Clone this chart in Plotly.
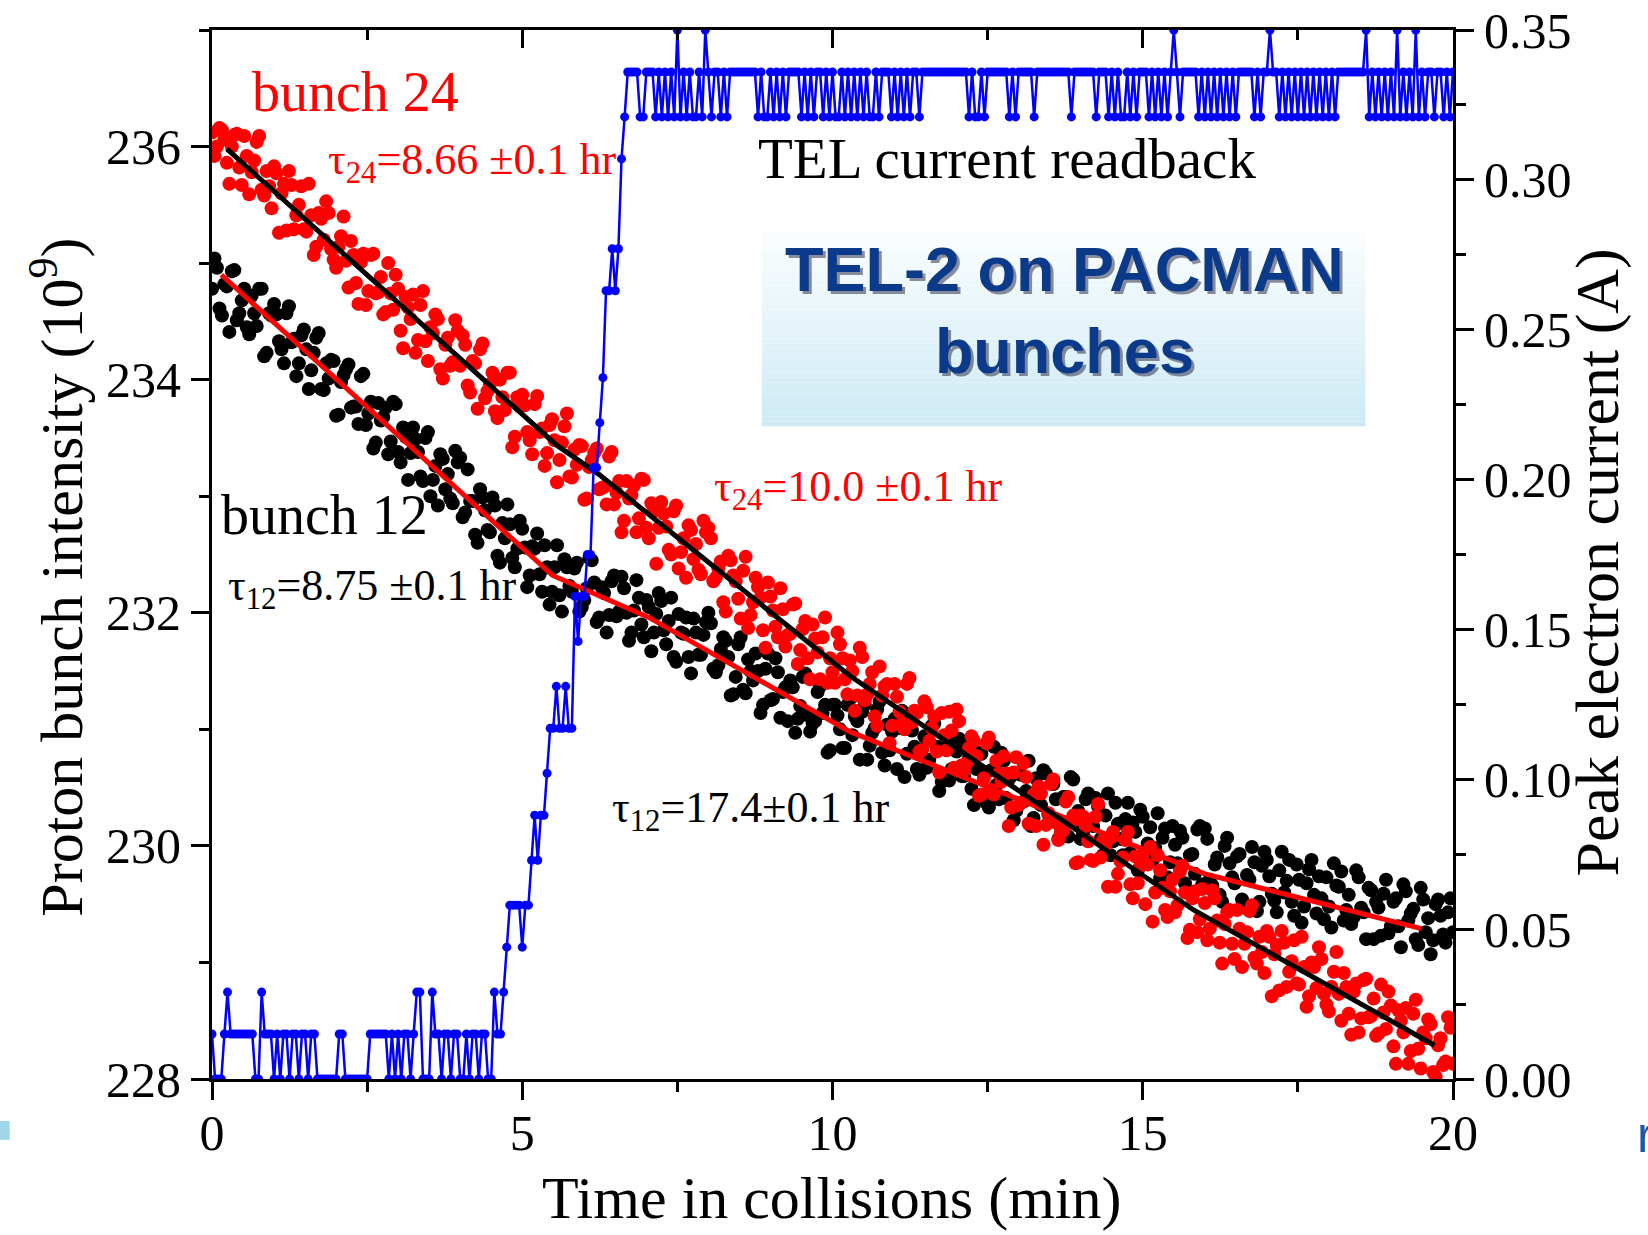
import numpy as np
import plotly.graph_objects as go

# ---------------- data ----------------
# proton bunch intensity (1e9). Set "a" sampled at 0, 0.08, 0.16 ... min,
# set "b" sampled in between (0.04, 0.12, ... min)
DOT_STEP_MIN = 0.08
DOT_OFFSET_B = 0.04
bunch24_a = [
    236.12, 236.00, 236.14, 235.86, 236.00, 236.11, 235.67, 235.92, 235.78, 236.04,
    235.63, 235.79, 235.47, 235.77, 235.60, 235.28, 235.67, 235.41, 235.66, 235.27,
    235.41, 235.14, 235.38, 235.53, 235.12, 234.96, 235.23, 235.02, 235.19, 234.83,
    235.01, 234.64, 235.07, 234.74, 234.88, 234.58, 234.74, 234.90, 234.42, 234.71,
    234.52, 234.23, 234.64, 234.33, 234.45, 234.56, 234.09, 234.30, 234.12, 234.51,
    234.12, 234.30, 233.89, 234.14, 234.26, 233.84, 233.96, 233.73, 234.00, 233.74,
    234.06, 233.51, 233.77, 233.78, 233.48, 233.79, 233.55, 233.26, 233.61, 233.48,
    233.31, 233.60, 233.17, 233.40, 233.44, 232.97, 233.25, 233.37, 233.06, 233.08,
    233.34, 232.93, 233.13, 232.79, 232.98, 233.09, 232.81, 233.14, 232.64, 232.87,
    232.73, 232.85, 232.54, 232.87, 232.38, 232.64, 232.75, 232.46, 232.37, 232.79,
    232.73, 232.27, 232.38, 232.09, 232.49, 232.32, 232.12, 232.36, 231.87, 232.09,
    232.22, 231.85, 232.26, 232.02, 231.79, 232.03, 231.81, 232.07, 231.56, 231.86,
    231.61, 231.90, 231.66, 231.79, 231.40, 231.49, 231.83, 231.61, 231.30, 231.50,
    231.29, 231.62, 231.30, 231.49, 231.03, 231.29, 231.39, 231.03, 231.28, 231.05,
    231.39, 231.06, 231.14, 230.82, 231.19, 231.01, 230.81, 231.14, 230.82, 230.99,
    231.17, 230.69, 230.71, 230.94, 230.77, 230.44, 230.88, 230.48, 230.73, 230.55,
    230.62, 230.33, 230.76, 230.37, 230.59, 230.41, 230.17, 230.45, 230.18, 230.53,
    230.20, 230.12, 230.38, 230.20, 229.85, 230.26, 230.17, 229.88, 230.25, 229.90,
    230.01, 230.07, 229.65, 229.87, 230.05, 229.67, 229.91, 229.83, 229.50, 229.99,
    229.60, 229.79, 229.45, 229.61, 229.43, 229.78, 229.60, 229.28, 229.61, 229.37,
    229.51, 229.29, 229.55, 229.17, 229.33, 229.45, 229.03, 229.29, 229.16, 229.44,
    229.04, 229.22, 228.91, 229.22, 229.07, 228.76, 229.17, 228.92, 229.19, 228.81,
    228.96, 228.71, 228.96, 229.13, 228.73, 228.58, 228.92, 228.73, 228.91, 228.56,
    228.75, 228.40, 228.85, 228.53, 228.69, 228.39, 228.57, 228.75, 228.28, 228.59,
    228.40, 228.13, 228.56, 228.26, 228.40, 228.51, 228.06, 228.29, 228.12, 228.53,
    228.13,
]
bunch24_b = [
    235.92, 236.16, 236.06, 235.68, 236.10, 235.82, 236.09, 235.59, 235.88, 236.09,
    235.58, 235.66, 235.83, 235.26, 235.68, 235.79, 235.29, 235.50, 235.29, 235.68,
    235.07, 235.43, 235.20, 235.43, 235.03, 235.14, 235.40, 234.79, 235.07, 234.65,
    235.08, 234.76, 235.08, 234.75, 234.56, 235.00, 234.60, 234.78, 234.27, 234.62,
    234.73, 234.34, 234.76, 234.16, 234.40, 234.52, 234.01, 234.36, 234.15, 234.42,
    234.38, 233.95, 234.16, 233.75, 234.31, 233.90, 234.06, 233.67, 233.85, 234.06,
    233.42, 233.85, 233.87, 233.55, 233.36, 233.86, 233.58, 233.37, 233.66, 233.12,
    233.46, 233.71, 233.16, 233.27, 233.43, 232.98, 233.31, 233.41, 233.07, 232.93,
    233.38, 233.03, 232.69, 233.13, 233.01, 232.69, 233.15, 232.73, 232.94, 232.42,
    232.95, 232.74, 232.50, 232.92, 232.52, 232.30, 232.71, 232.59, 232.33, 232.69,
    232.64, 232.30, 232.44, 232.01, 232.45, 232.27, 231.95, 232.48, 231.98, 232.30,
    232.13, 231.70, 232.14, 231.88, 232.21, 231.71, 231.82, 232.08, 231.68, 231.93,
    231.43, 231.78, 231.43, 231.96, 231.61, 231.40, 231.73, 231.43, 231.59, 231.16,
    231.70, 231.25, 231.39, 231.11, 231.54, 231.37, 230.88, 231.39, 231.15, 231.00,
    231.44, 231.16, 230.81, 231.24, 230.90, 231.11, 230.63, 230.95, 231.15, 230.67,
    231.07, 230.65, 230.84, 230.90, 230.43, 230.58, 230.93, 230.44, 230.62, 230.77,
    230.17, 230.63, 230.35, 230.71, 230.19, 230.44, 230.51, 230.01, 230.28, 230.57,
    230.05, 230.13, 230.42, 230.26, 229.86, 230.25, 230.04, 229.87, 230.36, 230.05,
    229.65, 230.12, 229.76, 229.90, 230.12, 229.55, 229.68, 229.93, 229.84, 229.35,
    229.92, 229.64, 229.39, 229.71, 229.49, 229.83, 229.21, 229.55, 229.26, 229.63,
    229.19, 229.62, 229.36, 228.99, 229.43, 229.16, 229.45, 228.96, 229.26, 229.49,
    228.99, 229.09, 229.27, 228.71, 229.15, 229.27, 228.79, 229.01, 228.82, 229.22,
    228.62, 229.00, 228.78, 229.03, 228.64, 228.79, 229.09, 228.50, 228.79, 228.38,
    228.82, 228.52, 228.86, 228.54, 228.37, 228.81, 228.43, 228.63, 228.13, 228.50,
    228.61, 228.24, 228.68, 228.09, 228.35, 228.47, 228.02, 228.35, 228.15, 228.44,
]
bunch12_a = [
    234.78, 234.96, 234.55, 234.80, 234.93, 234.51, 234.68, 234.45, 234.72, 234.46,
    234.78, 234.23, 234.55, 234.56, 234.26, 234.57, 234.32, 234.03, 234.38, 234.26,
    234.08, 234.36, 233.92, 234.14, 234.17, 233.69, 233.98, 234.09, 233.76, 233.77,
    234.03, 233.61, 233.81, 233.46, 233.65, 233.76, 233.47, 233.79, 233.29, 233.51,
    233.37, 233.49, 233.17, 233.50, 233.00, 233.26, 233.36, 233.06, 232.98, 233.39,
    233.33, 232.86, 232.96, 232.67, 233.06, 232.88, 232.69, 232.92, 232.43, 232.64,
    232.76, 232.39, 232.79, 232.56, 232.32, 232.55, 232.33, 232.58, 232.07, 232.39,
    232.15, 232.46, 232.23, 232.38, 232.01, 232.11, 232.47, 232.26, 231.96, 232.17,
    231.98, 232.32, 232.01, 232.21, 231.76, 232.02, 232.13, 231.79, 232.05, 231.83,
    232.17, 231.85, 231.93, 231.62, 231.99, 231.82, 231.62, 231.95, 231.64, 231.81,
    232.00, 231.52, 231.55, 231.79, 231.62, 231.30, 231.73, 231.34, 231.60, 231.42,
    231.50, 231.21, 231.65, 231.26, 231.49, 231.32, 231.07, 231.36, 231.09, 231.45,
    231.12, 231.05, 231.32, 231.14, 230.80, 231.21, 231.12, 230.84, 231.21, 230.95,
    231.07, 231.15, 230.74, 230.97, 231.17, 230.80, 231.04, 230.98, 230.66, 231.16,
    230.79, 230.99, 230.66, 230.83, 230.67, 231.03, 230.85, 230.55, 230.90, 230.66,
    230.81, 230.60, 230.87, 230.49, 230.66, 230.79, 230.37, 230.65, 230.52, 230.80,
    230.41, 230.60, 230.30, 230.61, 230.47, 230.17, 230.58, 230.35, 230.62, 230.24,
    230.40, 230.16, 230.42, 230.59, 230.20, 230.06, 230.40, 230.22, 230.41, 230.06,
    230.26, 229.92, 230.37, 230.06, 230.23, 229.94, 230.12, 230.31, 229.85, 230.16,
    229.98, 229.72, 230.15, 229.86, 230.01, 230.13, 229.68, 229.92, 229.76, 230.17,
    230.15, 229.71, 229.84, 229.58, 230.00, 229.85, 229.68, 229.93, 229.47, 229.71,
    229.86, 229.52, 229.95, 229.74, 229.53, 229.79, 229.60, 229.88, 229.40, 229.71,
    229.48, 229.80, 229.58, 229.74, 229.37, 229.48, 229.85, 229.65, 229.36, 229.58,
    229.39, 229.73, 229.43, 229.64, 229.20, 229.47, 229.59, 229.25, 229.52, 229.31,
    229.67, 229.36, 229.46, 229.15, 229.54, 229.38, 229.19, 229.54, 229.24, 229.43,
    229.26,
]
bunch12_b = [
    235.04, 234.61, 234.82, 234.41, 234.94, 234.57, 234.78, 234.39, 234.57, 234.78,
    234.20, 234.57, 234.65, 234.33, 234.14, 234.63, 234.35, 234.14, 234.43, 233.92,
    234.23, 234.40, 233.91, 234.01, 234.16, 233.70, 234.04, 234.13, 233.77, 233.62,
    234.05, 233.71, 233.41, 233.80, 233.68, 233.36, 233.81, 233.38, 233.59, 233.14,
    233.59, 233.38, 233.13, 233.55, 233.14, 232.92, 233.32, 233.19, 232.94, 233.29,
    232.82, 233.23, 232.96, 232.60, 232.99, 232.71, 232.99, 232.49, 232.77, 232.93,
    232.47, 232.55, 232.72, 232.22, 232.57, 232.68, 232.18, 232.39, 232.18, 232.58,
    232.01, 232.39, 232.18, 232.43, 232.05, 232.21, 232.45, 231.92, 232.22, 231.83,
    232.27, 231.97, 232.31, 232.00, 231.83, 232.28, 231.90, 232.11, 231.67, 231.99,
    232.10, 231.73, 232.13, 231.58, 231.83, 231.96, 231.48, 231.83, 231.64, 231.92,
    231.91, 231.49, 231.69, 231.76, 231.29, 231.45, 231.79, 231.31, 231.50, 231.65,
    231.14, 231.52, 231.25, 231.61, 231.10, 231.36, 231.42, 230.97, 231.20, 231.48,
    230.98, 231.07, 231.37, 231.21, 230.82, 231.21, 231.00, 230.84, 231.26, 231.11,
    230.74, 231.21, 230.86, 231.01, 231.24, 230.69, 230.82, 231.09, 231.01, 230.59,
    231.12, 230.85, 230.61, 230.94, 230.74, 231.05, 230.47, 230.83, 230.56, 230.93,
    230.92, 230.60, 230.75, 230.35, 230.80, 230.63, 230.33, 230.85, 230.40, 230.73,
    230.57, 230.22, 230.62, 230.38, 230.73, 230.24, 230.37, 230.65, 230.27, 230.53,
    230.06, 230.42, 230.08, 230.57, 230.30, 230.10, 230.45, 230.17, 230.34, 229.92,
    230.45, 230.04, 230.19, 229.92, 230.37, 230.20, 229.79, 230.25, 230.02, 229.88,
    230.28, 230.07, 229.73, 230.17, 229.85, 230.07, 229.62, 229.93, 230.14, 229.67,
    230.06, 229.66, 229.90, 229.52, 230.07, 229.73, 229.91, 229.54, 229.75, 229.99,
    229.44, 229.83, 229.88, 229.59, 229.43, 229.95, 229.70, 229.52, 229.84, 229.34,
    229.68, 229.88, 229.42, 229.55, 229.73, 229.30, 229.66, 229.78, 229.45, 229.33,
    229.79, 229.47, 229.20, 229.62, 229.52, 229.23, 229.71, 229.31, 229.55, 229.13,
    229.61, 229.42, 229.20, 229.64, 229.26, 229.07, 229.50, 229.40, 229.17, 229.55,
]

# piecewise exponential-fit lines (polyline vertices)
fit24_t = [0.24, 5.55, 6.23, 10.28, 13.62, 15.82, 19.70]
fit24_I = [235.98, 233.44, 233.19, 231.46, 230.25, 229.45, 228.29]
fit12_t = [0.15, 5.49, 7.04, 10.28, 16.00, 19.49]
fit12_I = [234.90, 232.32, 231.96, 230.98, 229.76, 229.29]

# TEL current readback (mA), sampled every 0.05 min
TEL_STEP_MIN = 0.05
tel_current_mA = [
    15, 0, 0, 0, 15, 29, 15, 15, 15, 15,
    15, 15, 15, 15, 0, 0, 29, 15, 15, 15,
    0, 15, 0, 15, 15, 0, 15, 15, 0, 15,
    15, 0, 15, 15, 0, 0, 0, 0, 0, 0,
    0, 15, 15, 0, 0, 0, 0, 0, 0, 0,
    0, 15, 15, 15, 15, 15, 15, 0, 15, 0,
    15, 0, 15, 15, 0, 15, 29, 29, 0, 0,
    0, 29, 15, 15, 0, 15, 15, 0, 15, 15,
    0, 0, 15, 0, 15, 15, 0, 15, 15, 0,
    0, 29, 15, 15, 29, 44, 58, 58, 58, 58,
    44, 58, 58, 73, 88, 73, 88, 88, 102, 117,
    117, 131, 117, 117, 131, 117, 117, 161, 146, 161,
    161, 175, 175, 204, 204, 219, 234, 263, 263, 277,
    263, 277, 307, 321, 336, 336, 336, 336, 321, 321,
    336, 336, 336, 321, 336, 321, 336, 321, 336, 321,
    350, 321, 336, 321, 336, 321, 321, 336, 321, 350,
    336, 321, 336, 336, 321, 336, 321, 336, 336, 336,
    336, 336, 336, 336, 336, 336, 321, 336, 321, 321,
    336, 321, 336, 321, 336, 321, 336, 336, 336, 336,
    321, 336, 321, 336, 321, 336, 336, 321, 336, 321,
    336, 321, 321, 336, 321, 336, 321, 336, 321, 336,
    321, 336, 321, 321, 336, 321, 336, 336, 336, 321,
    336, 321, 336, 321, 336, 321, 336, 336, 321, 336,
    336, 336, 336, 336, 336, 336, 336, 336, 336, 336,
    336, 336, 336, 336, 321, 336, 321, 321, 336, 321,
    336, 336, 336, 336, 336, 336, 336, 321, 336, 321,
    336, 336, 336, 336, 336, 321, 336, 336, 336, 336,
    336, 336, 336, 336, 336, 336, 336, 321, 336, 336,
    336, 336, 336, 336, 336, 321, 336, 336, 336, 321,
    336, 321, 336, 321, 321, 336, 321, 336, 321, 336,
    336, 336, 321, 336, 321, 336, 321, 336, 321, 336,
    350, 336, 321, 336, 336, 336, 336, 336, 321, 336,
    321, 336, 321, 336, 321, 336, 321, 336, 321, 336,
    321, 336, 336, 336, 336, 336, 321, 336, 321, 336,
    336, 350, 336, 336, 321, 336, 321, 336, 321, 336,
    321, 336, 321, 336, 321, 336, 321, 336, 321, 336,
    321, 336, 321, 336, 336, 336, 336, 336, 336, 336,
    336, 336, 350, 321, 336, 321, 336, 321, 336, 321,
    336, 321, 350, 321, 336, 321, 336, 321, 350, 321,
    336, 321, 336, 336, 321, 336, 336, 321, 336, 321,
    336,
]

x_ticks = [0, 5, 10, 15, 20]

# ---------------- figure ----------------
def times_a(n):
    return np.arange(n) * DOT_STEP_MIN

def times_b(n):
    return np.arange(n) * DOT_STEP_MIN + DOT_OFFSET_B

t12 = np.concatenate([times_a(len(bunch12_a)), times_b(len(bunch12_b))])
y12 = bunch12_a + bunch12_b
t24 = np.concatenate([times_a(len(bunch24_a)), times_b(len(bunch24_b))])
y24 = bunch24_a + bunch24_b
t_tel = np.arange(len(tel_current_mA)) * TEL_STEP_MIN
tel_A = [v / 1000.0 for v in tel_current_mA]

SERIF = "Liberation Serif, Times New Roman, serif"
SANS = "Liberation Sans, Arial, sans-serif"
RED = "#ff0000"
BLUE = "#0000ff"

fig = go.Figure()
fig.add_trace(go.Scatter(x=t12, y=y12, mode="markers", name="bunch 12",
                         marker=dict(color="black", size=14, line=dict(width=0))))
fig.add_trace(go.Scatter(x=t24, y=y24, mode="markers", name="bunch 24",
                         marker=dict(color=RED, size=14, line=dict(width=0))))
fig.add_trace(go.Scatter(x=fit12_t, y=fit12_I, mode="lines", name="fit 12",
                         line=dict(color=RED, width=5)))
fig.add_trace(go.Scatter(x=fit24_t, y=fit24_I, mode="lines", name="fit 24",
                         line=dict(color="black", width=5)))
fig.add_trace(go.Scatter(x=t_tel, y=tel_A, mode="lines+markers", name="TEL current",
                         yaxis="y2", line=dict(color=BLUE, width=2.5),
                         marker=dict(color=BLUE, size=9)))
# helper trace so the top (mirror) axis is drawn
fig.add_trace(go.Scatter(x=[None], y=[None], xaxis="x2", yaxis="y",
                         showlegend=False, hoverinfo="skip"))

tickfont = dict(family=SERIF, size=50, color="black")
common = dict(showline=True, linewidth=3, linecolor="black", showgrid=False,
              zeroline=False, ticks="outside", ticklen=18, tickwidth=3,
              tickcolor="black", tickfont=tickfont, automargin=False)

fig.update_layout(
    width=1648, height=1235,
    margin=dict(l=212, r=195, t=30, b=156, autoexpand=False),
    paper_bgcolor="white", plot_bgcolor="white",
    showlegend=False,
    xaxis=dict(range=[0, 20], tickvals=x_ticks, ticklabelstandoff=-10,
               minor=dict(dtick=2.5, tick0=0, ticks="outside", ticklen=10,
                          tickwidth=3, tickcolor="black"),
               **common),
    xaxis2=dict(range=[0, 20], overlaying="x", side="top", anchor="y",
                showline=True, linewidth=3, linecolor="black", showgrid=False,
                zeroline=False, ticks="inside", ticklen=18, tickwidth=3,
                tickcolor="black", tickvals=x_ticks, showticklabels=False,
                automargin=False,
                minor=dict(dtick=2.5, tick0=0, ticks="inside", ticklen=10,
                           tickwidth=3, tickcolor="black")),
    yaxis=dict(range=[228, 237], tick0=228, dtick=2,
               minor=dict(dtick=1, tick0=228, ticks="outside", ticklen=10,
                          tickwidth=3, tickcolor="black"),
               **common),
    yaxis2=dict(range=[0, 0.35], overlaying="y", side="right", anchor="x",
                tick0=0, dtick=0.05, tickformat=".2f",
                minor=dict(dtick=0.025, tick0=0, ticks="outside", ticklen=10,
                           tickwidth=3, tickcolor="black"),
                **common),
)

# gradient box behind the "TEL-2 on PACMAN" label
box_x0, box_x1 = 8.86, 18.59
box_y0, box_y1 = 233.60, 235.27
top_rgb = (250, 253, 254)
bot_rgb = (205, 234, 244)
n_bands = 40
shapes = []
for k in range(n_bands):
    f = k / (n_bands - 1)
    c = tuple(int(round(top_rgb[j] + (bot_rgb[j] - top_rgb[j]) * f)) for j in range(3))
    ya = box_y1 - (box_y1 - box_y0) * k / n_bands
    yb = box_y1 - (box_y1 - box_y0) * (k + 1) / n_bands
    shapes.append(dict(type="rect", xref="x", yref="y", x0=box_x0, x1=box_x1,
                       y0=yb, y1=ya, line=dict(width=0),
                       fillcolor="rgb(%d,%d,%d)" % c, layer="below"))
# slide artefact at left edge
shapes.append(dict(type="rect", xref="paper", yref="paper", x0=-0.1711, x1=-0.163,
                   y0=-0.058, y1=-0.040, line=dict(width=0), fillcolor="#9fd6ea"))
fig.update_layout(shapes=shapes)

def ann(x, y, text, size, color="black", family=SERIF, **kw):
    d = dict(x=x, y=y, xref="x", yref="y", text=text, showarrow=False,
             font=dict(family=family, size=size, color=color),
             xanchor="left", yanchor="middle")
    d.update(kw)
    return d

box_title = "<b>TEL-2 on PACMAN<br>bunches</b>"
annotations = [
    ann(0.62, 236.47, "bunch 24", 56, RED),
    ann(1.83, 235.86, "τ<sub>24</sub>=8.66 ±0.1 hr", 44, RED),
    ann(8.77, 235.90, "TEL current readback", 57),
    ann(0.12, 232.84, "bunch 12", 56),
    ann(0.23, 232.21, "τ<sub>12</sub>=8.75 ±0.1 hr", 44),
    ann(8.06, 233.06, "τ<sub>24</sub>=10.0 ±0.1 hr", 44, RED),
    ann(6.42, 230.30, "τ<sub>12</sub>=17.4±0.1 hr", 44),
    ann(13.74, 234.60, box_title, 63, "rgba(30,30,60,0.5)", SANS,
        xanchor="center", xshift=3, yshift=-3),
    ann(13.74, 234.60, box_title, 63, "#0b3a8a", SANS, xanchor="center"),
    # axis titles
    dict(x=0.4994, y=-0.1134, xref="paper", yref="paper", showarrow=False,
         text="Time in collisions (min)", xanchor="center", yanchor="middle",
         font=dict(family=SERIF, size=60, color="black")),
    dict(x=-0.1248, y=0.478, xref="paper", yref="paper", showarrow=False,
         text="Proton bunch intensity (10<sup>9</sup>)", textangle=-90,
         xanchor="center", yanchor="middle",
         font=dict(family=SERIF, size=60, color="black")),
    dict(x=1.1163, y=0.4926, xref="paper", yref="paper", showarrow=False,
         text="Peak electron current (A)", textangle=-90,
         xanchor="center", yanchor="middle",
         font=dict(family=SERIF, size=62, color="black")),
    # slide artefact at right edge
    dict(x=1.147, y=-0.053, xref="paper", yref="paper", showarrow=False,
         text="r", xanchor="left", yanchor="middle",
         font=dict(family=SANS, size=50, color="#1a5aa6")),
]
fig.update_layout(annotations=annotations)

fig.write_html("out.html")
